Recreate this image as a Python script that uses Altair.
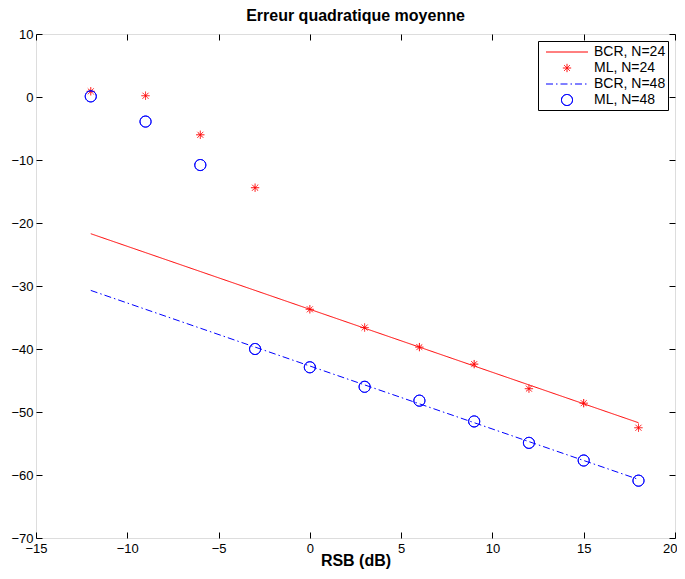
import altair as alt
import pandas as pd

snr = [-12, -9, -6, -3, 0, 3, 6, 9, 12, 15, 18]
bcr24 = [-21.7, -24.7, -27.7, -30.7, -33.7, -36.7, -39.7, -42.7, -45.7, -48.7, -51.7]
ml24 = [0.9, 0.2, -6.0, -14.4, -33.7, -36.6, -39.7, -42.4, -46.3, -48.6, -52.5]
bcr48 = [-30.7, -33.7, -36.7, -39.7, -42.7, -45.7, -48.7, -51.7, -54.7, -57.7, -60.7]
ml48 = [0.1, -3.9, -10.8, -40.0, -42.9, -46.0, -48.2, -51.5, -54.9, -57.7, -60.9]
series_names = ["BCR, N=24", "ML, N=24", "BCR, N=48", "ML, N=48"]
x_ticks = [-15, -10, -5, 0, 5, 10, 15, 20]
y_ticks = [-70, -60, -50, -40, -30, -20, -10, 0, 10]

rows = []
for name, vals in zip(series_names, [bcr24, ml24, bcr48, ml48]):
    for x, v in zip(snr, vals):
        rows.append({"snr": x, "value": v, "series": name})
df = pd.DataFrame(rows)

colors = ["#ff0000", "#ff0000", "#0000ff", "#0000ff"]
dashes = [[1, 0], [1, 0], [7, 3, 1.5, 3], [1, 0]]
# symbol paths (unit = half of sqrt(size)); circle drawn out-and-back so it has no fill area
LINE = "M-2.47,0L2.47,0"
STAR = "M-0.49,0L0.49,0M0,-0.49L0,0.49M-0.35,-0.35L0.35,0.35M-0.35,0.35L0.35,-0.35"
CIRC = ("M-0.65,0A0.65,0.65,0,1,1,0.65,0A0.65,0.65,0,1,1,-0.65,0"
        "A0.65,0.65,0,1,0,0.65,0A0.65,0.65,0,1,0,-0.65,0")
shapes = [LINE, STAR, LINE, CIRC]
SIZE = 289

legend = alt.Legend(
    title=None, orient="top-right", offset=7,
    fillColor="white", strokeColor="black", padding=2,
    labelFontSize=14, labelFont="Liberation Sans", labelColor="black",
    symbolSize=SIZE, symbolStrokeWidth=1, rowPadding=0,
    symbolOffset=18, labelOffset=18,
)

color_enc = alt.Color("series:N", scale=alt.Scale(domain=series_names, range=colors), legend=legend)
dash_enc = alt.StrokeDash("series:N", scale=alt.Scale(domain=series_names, range=dashes), legend=legend)
shape_enc = alt.Shape("series:N", scale=alt.Scale(domain=series_names, range=shapes), legend=legend)

xscale = alt.Scale(domain=[-15, 20], nice=False, zero=False)
yscale = alt.Scale(domain=[-70, 10], nice=False, zero=False)

common_axis = dict(offset=-6, tickSize=6, tickColor="black", domain=False, grid=False,
                   labelFlush=False, labelOverlap=False)

lines = alt.Chart(df).transform_filter(
    alt.FieldOneOfPredicate(field="series", oneOf=["BCR, N=24", "BCR, N=48"])
).mark_line(strokeWidth=1).encode(
    x=alt.X("snr:Q", scale=xscale, axis=alt.Axis(
        orient="bottom", values=x_ticks, labelPadding=4,
        labelAlign={"condition": {"test": "datum.value == 20", "value": "right"}, "value": "center"},
        labelOffset={"condition": {"test": "datum.value == 20", "value": 2}, "value": 0},
        title="RSB (dB)", titleFontSize=16, titleFontWeight="bold", titlePadding=-3, **common_axis)),
    y=alt.Y("value:Q", scale=yscale, axis=alt.Axis(orient="left", values=y_ticks, labelPadding=3,
            title=None, **common_axis)),
    color=color_enc,
    strokeDash=dash_enc,
    shape=shape_enc,
)

points = alt.Chart(df).transform_filter(
    alt.FieldOneOfPredicate(field="series", oneOf=["ML, N=24", "ML, N=48"])
).mark_point(filled=False, size=SIZE, strokeWidth=1, opacity=1).encode(
    x=alt.X("snr:Q", scale=xscale, axis=alt.Axis(orient="top", values=x_ticks, labels=False, title=None, **common_axis)),
    y=alt.Y("value:Q", scale=yscale, axis=alt.Axis(orient="right", values=y_ticks, labels=False, title=None, **common_axis)),
    color=color_enc,
    shape=shape_enc,
    strokeDash=dash_enc,
)

chart = alt.layer(lines, points).resolve_axis(x="independent", y="independent").properties(
    width=639, height=504,
    title=alt.TitleParams("Erreur quadratique moyenne", fontSize=16, fontWeight="bold",
                          anchor="middle", offset=4, color="black", font="Liberation Sans"),
    padding={"left": 28, "top": 26, "right": 2, "bottom": 33},
    autosize=alt.AutoSizeParams(type="none"),
).configure_view(stroke="black", strokeWidth=1).configure(
    font="Liberation Sans"
).configure_axis(labelFontSize=13, labelColor="black", labelFont="Liberation Sans",
                 titleColor="black", titleFont="Liberation Sans")

chart.save("out.html", embed_options={"renderer": "svg", "actions": False})
